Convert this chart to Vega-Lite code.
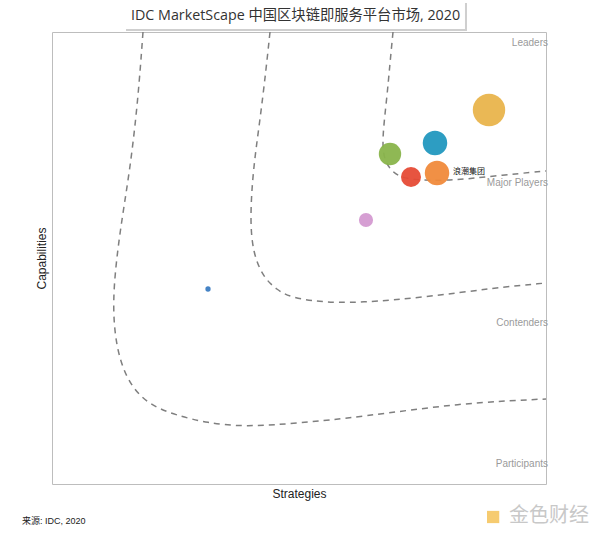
{
  "$schema": "https://vega.github.io/schema/vega-lite/v6.json",
  "width": 494,
  "height": 452,
  "autosize": "none",
  "padding": {"left": 52, "top": 32, "right": 54, "bottom": 54},
  "background": "white",
  "config": {
    "view": {"stroke": "#bdbdbd", "strokeWidth": 1},
    "axis": {
      "domain": false,
      "ticks": false,
      "labels": false,
      "grid": false,
      "titleFont": "Liberation Sans",
      "titleFontSize": 12,
      "titleFontWeight": "normal",
      "titleColor": "#222222"
    }
  },
  "datasets": {
    "curves": [
      {"curve": "A", "i": 1, "x": 18.42, "y": 100},
      {"curve": "A", "i": 2, "x": 17.41, "y": 84.96},
      {"curve": "A", "i": 3, "x": 15.79, "y": 69.47},
      {"curve": "A", "i": 4, "x": 13.77, "y": 56.19},
      {"curve": "A", "i": 5, "x": 12.35, "y": 42.92},
      {"curve": "A", "i": 6, "x": 12.55, "y": 34.07},
      {"curve": "A", "i": 7, "x": 13.77, "y": 26.99},
      {"curve": "A", "i": 8, "x": 16.19, "y": 21.24},
      {"curve": "A", "i": 9, "x": 19.84, "y": 17.48},
      {"curve": "A", "i": 10, "x": 24.9, "y": 15.27},
      {"curve": "A", "i": 11, "x": 31.38, "y": 13.5},
      {"curve": "A", "i": 12, "x": 39.07, "y": 12.61},
      {"curve": "A", "i": 13, "x": 50.2, "y": 13.5},
      {"curve": "A", "i": 14, "x": 62.35, "y": 14.82},
      {"curve": "A", "i": 15, "x": 82.59, "y": 17.92},
      {"curve": "A", "i": 16, "x": 100, "y": 18.81},
      {"curve": "B", "i": 1, "x": 44.13, "y": 100},
      {"curve": "B", "i": 2, "x": 43.32, "y": 91.59},
      {"curve": "B", "i": 3, "x": 42.11, "y": 80.53},
      {"curve": "B", "i": 4, "x": 40.69, "y": 69.47},
      {"curve": "B", "i": 5, "x": 40.08, "y": 58.41},
      {"curve": "B", "i": 6, "x": 40.69, "y": 51.11},
      {"curve": "B", "i": 7, "x": 42.71, "y": 45.8},
      {"curve": "B", "i": 8, "x": 45.55, "y": 42.92},
      {"curve": "B", "i": 9, "x": 48.18, "y": 41.37},
      {"curve": "B", "i": 10, "x": 53.64, "y": 40.27},
      {"curve": "B", "i": 11, "x": 62.35, "y": 40.04},
      {"curve": "B", "i": 12, "x": 75.91, "y": 41.37},
      {"curve": "B", "i": 13, "x": 89.27, "y": 43.36},
      {"curve": "B", "i": 14, "x": 100, "y": 44.47},
      {"curve": "C", "i": 1, "x": 69.03, "y": 100},
      {"curve": "C", "i": 2, "x": 68.42, "y": 93.14},
      {"curve": "C", "i": 3, "x": 67.81, "y": 85.62},
      {"curve": "C", "i": 4, "x": 66.8, "y": 76.11},
      {"curve": "C", "i": 5, "x": 67.21, "y": 71.68},
      {"curve": "C", "i": 6, "x": 68.83, "y": 69.03},
      {"curve": "C", "i": 7, "x": 71.46, "y": 67.26},
      {"curve": "C", "i": 8, "x": 80.57, "y": 67.04},
      {"curve": "C", "i": 9, "x": 89.27, "y": 68.14},
      {"curve": "C", "i": 10, "x": 100, "y": 69.25}
    ],
    "vendors": [
      {"vendor": "V1", "strategy": 88.46, "capability": 82.74, "share": 105},
      {"vendor": "V2", "strategy": 77.53, "capability": 75.44, "share": 60},
      {"vendor": "V3", "strategy": 68.42, "capability": 73.01, "share": 50},
      {"vendor": "V4", "strategy": 72.67, "capability": 67.92, "share": 40},
      {"vendor": "浪潮集团", "strategy": 77.94, "capability": 68.81, "share": 60},
      {"vendor": "V6", "strategy": 63.56, "capability": 58.41, "share": 20},
      {"vendor": "V7", "strategy": 31.58, "capability": 43.14, "share": 2.8}
    ],
    "zones": [
      {"zone": "Leaders", "x": 100, "y": 97.57},
      {"zone": "Major Players", "x": 100, "y": 66.59},
      {"zone": "Contenders", "x": 100, "y": 35.62},
      {"zone": "Participants", "x": 100, "y": 4.42}
    ],
    "labels": [
      {"text": "浪潮集团", "x": 84.41, "y": 69.03}
    ],
    "box": [
      {"part": "shadow", "x": 14.98, "x2": 84.01, "y": 100.22, "y2": 106.42},
      {"part": "face", "x": 14.37, "x2": 83.6, "y": 100.66, "y2": 107.3}
    ],
    "title": [
      {"text": "IDC MarketScape 中国区块链即服务平台市场, 2020", "x": 49.3, "y": 103.54}
    ],
    "footer": [
      {"text": "来源: IDC, 2020", "x": -6.07, "y": -8.19}
    ],
    "mark": [
      {"text": "金色财经", "x": 92.51, "y": -7.08}
    ],
    "logo": [
      {"x": 89.3, "y": -7.3}
    ]
  },
  "layer": [
    {
      "data": {"name": "box"},
      "mark": {"type": "rect", "clip": false},
      "encoding": {
        "x": {"field": "x", "type": "quantitative", "scale": {"domain": [0, 100]}, "title": "Strategies"},
        "x2": {"field": "x2"},
        "y": {"field": "y", "type": "quantitative", "scale": {"domain": [0, 100]}, "title": "Capabilities"},
        "y2": {"field": "y2"},
        "color": {"field": "part", "type": "nominal", "scale": {"domain": ["shadow", "face"], "range": ["#cfcfcf", "#ffffff"]}, "legend": null}
      }
    },
    {
      "data": {"name": "title"},
      "mark": {"type": "text", "align": "center", "baseline": "middle", "font": "Open Sans, Noto Sans CJK SC", "fontSize": 14.3, "color": "#333333", "clip": false},
      "encoding": {
        "x": {"field": "x", "type": "quantitative"},
        "y": {"field": "y", "type": "quantitative"},
        "text": {"field": "text"}
      }
    },
    {
      "data": {"name": "curves"},
      "mark": {"type": "line", "interpolate": "basis", "strokeDash": [6, 5], "stroke": "#7f7f7f", "strokeWidth": 1.5},
      "encoding": {
        "x": {"field": "x", "type": "quantitative"},
        "y": {"field": "y", "type": "quantitative"},
        "detail": {"field": "curve", "type": "nominal"},
        "order": {"field": "i", "type": "quantitative"}
      }
    },
    {
      "data": {"name": "vendors"},
      "mark": {"type": "circle", "opacity": 0.95},
      "encoding": {
        "x": {"field": "strategy", "type": "quantitative"},
        "y": {"field": "capability", "type": "quantitative"},
        "size": {"field": "share", "type": "quantitative", "scale": {"type": "linear", "domain": [0, 100], "range": [0, 1000]}, "legend": null},
        "fill": {"field": "vendor", "type": "nominal", "scale": {"domain": ["V1", "V2", "V3", "V4", "浪潮集团", "V6", "V7"], "range": ["#E9B44C", "#2298BF", "#89B44B", "#E64B36", "#F08A3B", "#D49AD1", "#3B7CC2"]}, "legend": null}
      }
    },
    {
      "data": {"name": "zones"},
      "mark": {"type": "text", "align": "right", "baseline": "middle", "font": "Liberation Sans", "fontSize": 10, "color": "#9a9a9a", "dx": 2},
      "encoding": {
        "x": {"field": "x", "type": "quantitative"},
        "y": {"field": "y", "type": "quantitative"},
        "text": {"field": "zone"}
      }
    },
    {
      "data": {"name": "labels"},
      "mark": {"type": "text", "align": "center", "baseline": "middle", "font": "Noto Sans CJK SC", "fontSize": 8, "color": "#111111"},
      "encoding": {
        "x": {"field": "x", "type": "quantitative"},
        "y": {"field": "y", "type": "quantitative"},
        "text": {"field": "text"}
      }
    },
    {
      "data": {"name": "footer"},
      "mark": {"type": "text", "align": "left", "baseline": "middle", "font": "Liberation Sans, Noto Sans CJK SC", "fontSize": 9, "color": "#222222", "clip": false},
      "encoding": {
        "x": {"field": "x", "type": "quantitative"},
        "y": {"field": "y", "type": "quantitative"},
        "text": {"field": "text"}
      }
    },
    {
      "data": {"name": "logo"},
      "mark": {"type": "square", "filled": true, "color": "#F2B533", "size": 150, "clip": false},
      "encoding": {
        "x": {"field": "x", "type": "quantitative"},
        "y": {"field": "y", "type": "quantitative"}
      }
    },
    {
      "data": {"name": "mark"},
      "mark": {"type": "text", "align": "left", "baseline": "middle", "font": "Noto Sans CJK SC", "fontSize": 20, "color": "#c8c8c8", "clip": false},
      "encoding": {
        "x": {"field": "x", "type": "quantitative"},
        "y": {"field": "y", "type": "quantitative"},
        "text": {"field": "text"}
      }
    }
  ]
}
